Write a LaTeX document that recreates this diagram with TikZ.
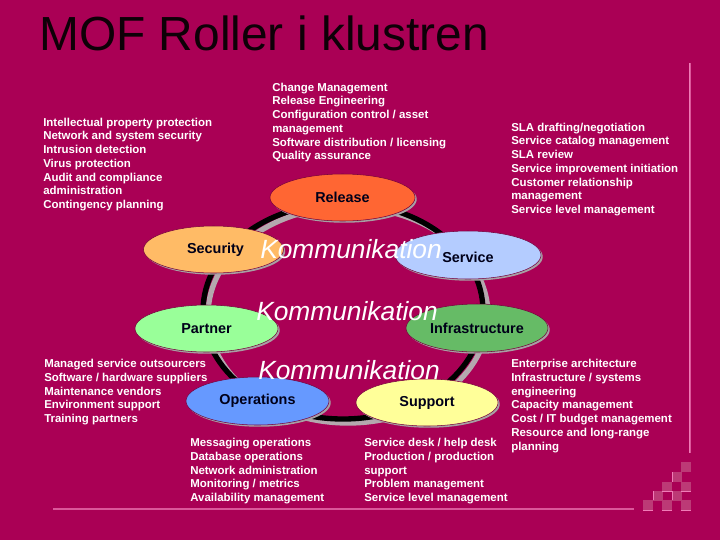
\documentclass[tikz,border=0pt]{standalone}
\usepackage{fontspec}
\setmainfont{Liberation Sans}
\usetikzlibrary{shapes.geometric,shadows}
\definecolor{bgc}{HTML}{AA0055}
\definecolor{sq}{HTML}{BC3A76}
\definecolor{pnk}{HTML}{F07CB8}
\definecolor{ringg}{HTML}{B4A8AE}
\definecolor{shad}{HTML}{A8A0A4}
\tikzset{
  x=0.75pt,y=-0.75pt,
  blockt/.style={anchor=north west,inner sep=0pt,align=left,text=white,font=\fontsize{8.6pt}{10.32pt}\selectfont\bfseries},
  oval/.style={ellipse,inner sep=0pt,draw=bgc!70!black,line width=0.4pt,text=black!90!blue,
     font=\fontsize{10.8pt}{12pt}\selectfont\bfseries,
     drop shadow={shadow xshift=1.3pt,shadow yshift=-1.3pt,fill=shad,opacity=1}},
  komm/.style={text=white,inner sep=0pt,font=\fontsize{19.75pt}{22pt}\selectfont\itshape},
  sqbox/.style={fill=sq,draw=none},
  pline/.style={draw=pnk,line width=0.75pt},
}
\begin{document}
\begin{tikzpicture}
\useasboundingbox (0,0) rectangle (720,540);
\fill[bgc] (0,0) rectangle (720,540);
% title
\node[anchor=base west,inner sep=0pt,text=black!92!bgc,font=\fontsize{35.9pt}{38pt}\selectfont] (title) at (39,50) {MOF Roller i klustren};
% decoration
\draw[draw=pnk!70!bgc,line width=1.6pt] (690,63) -- (690,453);
\draw[draw=pnk,line width=0.6pt] (689.5,63) -- (689.5,453);
\draw[draw=pnk!70!bgc,line width=1.4pt] (53,509) -- (634,509);
\foreach \a/\b in {681/462,672/472,662/482,681/482,653/491,672/491,643/500,662/500,681/500}
  \fill[sqbox] (\a,\b) rectangle +(10,9.5);
\foreach \a in {643,662,681} \draw[pline] (\a,510) -- +(10,0);
\foreach \a in {662,681} \draw[pline] (\a,491) -- +(10,0);
\draw[pline] (653,491) -- (653,500);
\draw[pline] (672,472) -- (672,482);
\draw[pline] (672,491) -- (672,500);
% ring
\draw[ringg,line width=4pt] (348,315) ellipse [x radius=140,y radius=108];
\draw[black,line width=4pt] (343,311) ellipse [x radius=140,y radius=108];
% ellipses
\node[oval,fill={rgb,255:red,255;green,102;blue,51},minimum width=108.75pt,minimum height=35.25pt] (rel) at (342.5,197.5) {Release};
\node[oval,fill={rgb,255:red,255;green,187;blue,102},minimum width=105pt,minimum height=35.25pt] (sec) at (213.5,249.5) {\hspace{3pt}Security};
\node[oval,fill={rgb,255:red,180;green,204;blue,255},minimum width=109.5pt,minimum height=36pt] (ser) at (468,255) {\raisebox{-1.5pt}[\height][\depth]{Service}};
\node[oval,fill={rgb,255:red,153;green,255;blue,153},minimum width=107.25pt,minimum height=35.25pt] (par) at (206.5,328.5) {Partner};
\node[oval,fill={rgb,255:red,102;green,187;blue,102},minimum width=106.5pt,minimum height=36pt] (inf) at (477,328) {Infrastructure};
\node[oval,fill={rgb,255:red,102;green,153;blue,255},minimum width=107.25pt,minimum height=36pt] (ope) at (257.5,401) {Operations};
\node[oval,fill={rgb,255:red,255;green,255;blue,153},minimum width=106.5pt,minimum height=35.25pt] (sup) at (427,402.5) {Support};
% Kommunikation
\node[komm] (k1) at (351,249) {Kommunikation};
\node[komm] (k2) at (347,311) {Kommunikation};
\node[komm] (k3) at (349,370) {Kommunikation};
% text blocks
\node[blockt] (t1) at (272,82.5) {Change Management\\Release Engineering\\Configuration control / asset\\management\\Software distribution / licensing\\Quality assurance};
\node[blockt] (t2) at (43,117.5) {Intellectual property protection\\Network and system security\\Intrusion detection\\Virus protection\\Audit and compliance\\administration\\Contingency planning};
\node[blockt] (t3) at (511,122.5) {SLA drafting/negotiation\\Service catalog management\\SLA review\\Service improvement initiation\\Customer relationship\\management\\Service level management};
\node[blockt] (t4) at (44,359) {Managed service outsourcers\\Software / hardware suppliers\\Maintenance vendors\\Environment support\\Training partners};
\node[blockt] (t5) at (511,359) {Enterprise architecture\\Infrastructure / systems\\engineering\\Capacity management\\Cost / IT budget management\\Resource and long-range\\planning};
\node[blockt] (t6) at (190,438) {Messaging operations\\Database operations\\Network administration\\Monitoring / metrics\\Availability management};
\node[blockt] (t7) at (364,438) {Service desk / help desk\\Production / production\\support\\Problem management\\Service level management};
\end{tikzpicture}
\end{document}
